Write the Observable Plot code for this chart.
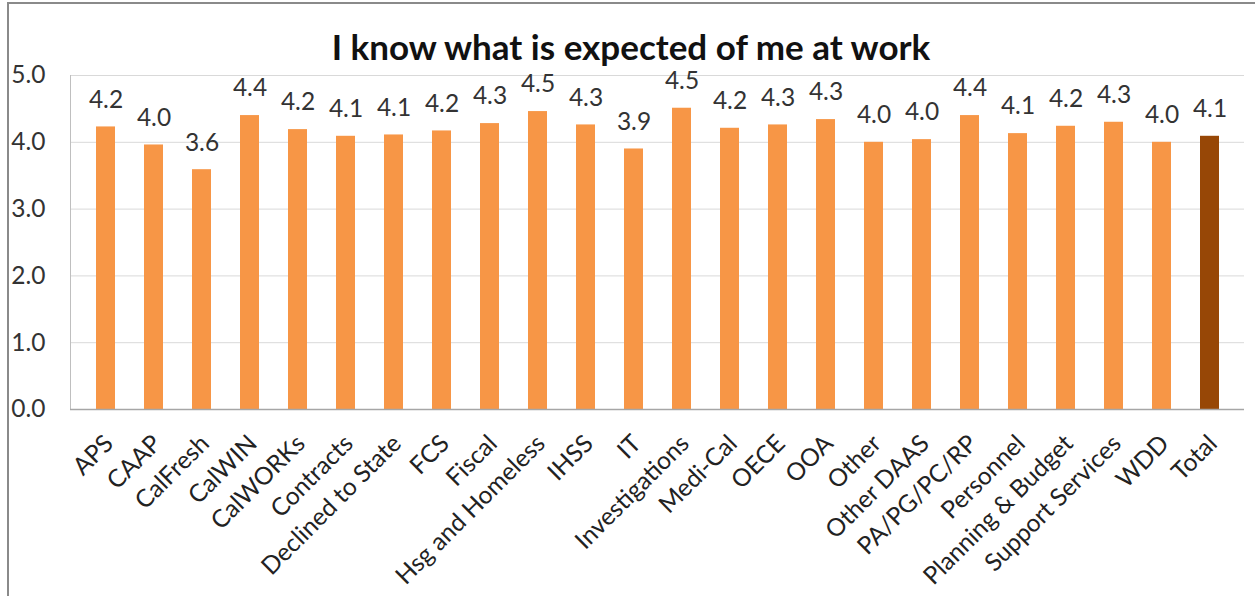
<!DOCTYPE html>
<html>
<head>
<meta charset="utf-8">
<script src="https://cdn.jsdelivr.net/npm/d3@7"></script>
<script src="https://cdn.jsdelivr.net/npm/@observablehq/plot@0.6"></script>
<style>
  html, body { margin: 0; padding: 0; background: #fff; }
  #wrap { position: relative; width: 1255px; height: 596px; overflow: hidden; font-family: Lato, "Open Sans", sans-serif; }
  #frame { position: absolute; left: 7px; top: 2px; right: -10px; bottom: -10px; border-left: 2px solid #8a8a8a; border-top: 2px solid #8a8a8a; }
  #title { position: absolute; left: 0; width: 1262px; top: 29px; text-align: center; font-size: 35px; line-height: 35px; font-weight: bold; color: #111; white-space: nowrap; }
  #chart { position: absolute; left: 0; top: 0; }
</style>
</head>
<body>
<div id="wrap">
  <div id="frame"></div>
  <div id="chart"></div>
  <div id="title">I know what is expected of me at work</div>
</div>
<script>
const categories = ["APS","CAAP","CalFresh","CalWIN","CalWORKs","Contracts","Declined to State","FCS","Fiscal","Hsg and Homeless","IHSS","IT","Investigations","Medi-Cal","OECE","OOA","Other","Other DAAS","PA/PG/PC/RP","Personnel","Planning & Budget","Support Services","WDD","Total"];
const values = [4.23,3.96,3.59,4.40,4.19,4.09,4.11,4.17,4.28,4.46,4.26,3.90,4.51,4.21,4.26,4.34,4.00,4.04,4.40,4.13,4.24,4.30,4.00,4.09];
const yTicks = [0,1,2,3,4,5];
const barColor = "#F79646";
const totalColor = "#974706";

const data = categories.map((c, i) => ({cat: c, value: values[i]}));

const chart = Plot.plot({
  width: 1255,
  height: 596,
  marginLeft: 70,
  marginRight: 11,
  marginTop: 75,
  marginBottom: 187,
  style: {fontFamily: "Lato, 'Open Sans', sans-serif", fontSize: "24px", color: "#333", background: "transparent"},
  x: {domain: categories, paddingInner: 0.61, paddingOuter: 0.305, label: null},
  y: {domain: [0, 5], label: null},
  marks: [
    Plot.gridY(yTicks, {stroke: "#d9d9d9", strokeOpacity: 1}),
    Plot.frame({anchor: "left", stroke: "#bfbfbf"}),
    Plot.barY(data, {x: "cat", y: "value", fill: d => d.cat === "Total" ? totalColor : barColor}),
    Plot.ruleY([0], {stroke: "#a6a6a6", strokeWidth: 1.5}),
    Plot.text(data, {x: "cat", y: "value", text: d => d.value.toFixed(1), dy: -27, lineAnchor: "middle", fill: "#333", fontSize: 24.5}),
    Plot.axisY(yTicks, {tickSize: 0, tickPadding: 25, tickFormat: d => d.toFixed(1), fontSize: 24.5, fill: "#333"}),
    Plot.axisX({tickRotate: -45, tickSize: 0, tickPadding: 30, dx: 3, textAnchor: "end", lineAnchor: "middle", fontSize: 24.5, fill: "#222"})
  ]
});
document.getElementById("chart").appendChild(chart);
</script>
</body>
</html>
